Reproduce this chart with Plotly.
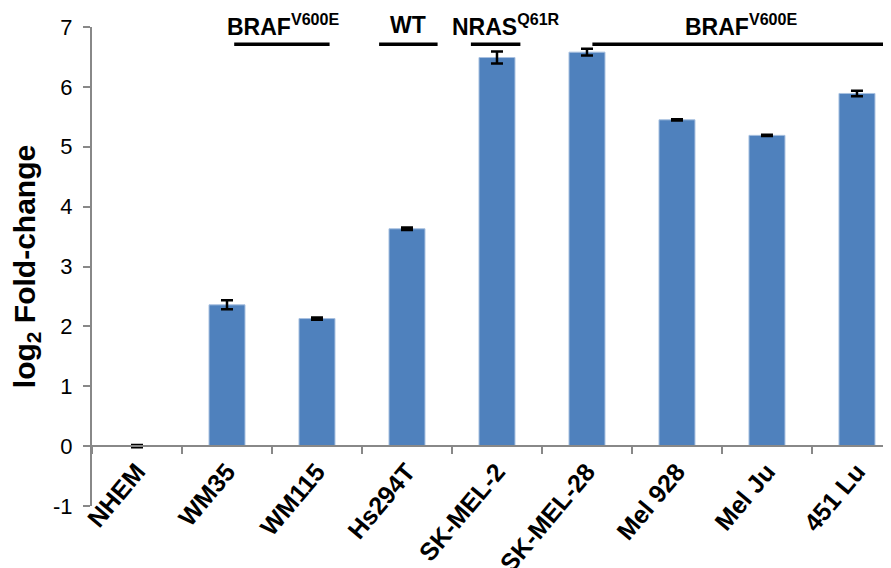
import plotly.graph_objects as go

categories = ["NHEM", "WM35", "WM115", "Hs294T", "SK-MEL-2", "SK-MEL-28", "Mel 928", "Mel Ju", "451 Lu"]
values = [0.0, 2.36, 2.13, 3.63, 6.49, 6.58, 5.45, 5.19, 5.89]
errors = [0.02, 0.075, 0.02, 0.02, 0.1, 0.055, 0.01, 0.01, 0.045]

y_tick_vals = [-1, 0, 1, 2, 3, 4, 5, 6, 7]
y_tick_text = ["-1", "0", "1", "2", "3", "4", "5", "6", "7"]

# group labels: (text, x_start, x_end, x_text)
groups = [
    ("BRAF<sup>V600E</sup>", 1.08, 2.14, 1.62),
    ("WT", 2.69, 3.34, 3.01),
    ("NRAS<sup>Q61R</sup>", 3.71, 4.26, 4.10),
    ("BRAF<sup>V600E</sup>", 5.06, 8.6, 6.71),
]
group_line_y = 6.71
group_text_y_paper = 1.004

FONT = "Liberation Sans, Arial, sans-serif"

fig = go.Figure()
fig.add_trace(go.Bar(
    x=categories, y=values,
    width=0.4,
    marker=dict(color="#4F81BD", line=dict(color="#A9C1E0", width=1)),
    error_y=dict(type="data", array=errors, visible=True, color="black", thickness=2.5, width=6),
))

for text, x0, x1, xt in groups:
    fig.add_shape(type="line", xref="x", yref="y", x0=x0, x1=x1, y0=group_line_y, y1=group_line_y,
                  line=dict(color="black", width=3.5))
    fig.add_annotation(x=xt, y=group_text_y_paper, xref="x", yref="paper", text="<b>" + text + "</b>",
                       showarrow=False, xanchor="center", yanchor="middle",
                       font=dict(family=FONT, size=23, color="black"))

fig.update_layout(
    width=883, height=560,
    margin=dict(l=84, r=0, t=19, b=62, autoexpand=False),
    paper_bgcolor="white", plot_bgcolor="white",
    showlegend=False,
    font=dict(family=FONT, color="black"),
    xaxis=dict(
        type="category",
        range=[-0.5, 8.378],
        anchor="free", position=0.125,
        automargin=False,
        showline=True, linecolor="#888888", linewidth=2,
        ticks="outside", tickson="boundaries", ticklen=7, tickwidth=2, tickcolor="#888888",
        tickangle=-50,
        tickfont=dict(family=FONT, size=25, color="black", weight="bold"),
        showgrid=False, zeroline=False,
    ),
    yaxis=dict(
        range=[-1, 7],
        tickmode="array", tickvals=y_tick_vals, ticktext=y_tick_text,
        automargin=False,
        showline=True, linecolor="#888888", linewidth=2,
        ticks="outside", ticklen=7, tickwidth=2, tickcolor="#888888",
        tickfont=dict(family=FONT, size=22, color="black"),
        ticklabelstandoff=6,
        showgrid=False, zeroline=False,
        title=dict(text="<b>log<sub>2</sub> Fold-change</b>", font=dict(family=FONT, size=30, color="black"), standoff=10),
    ),
)

fig.write_html("out.html")
